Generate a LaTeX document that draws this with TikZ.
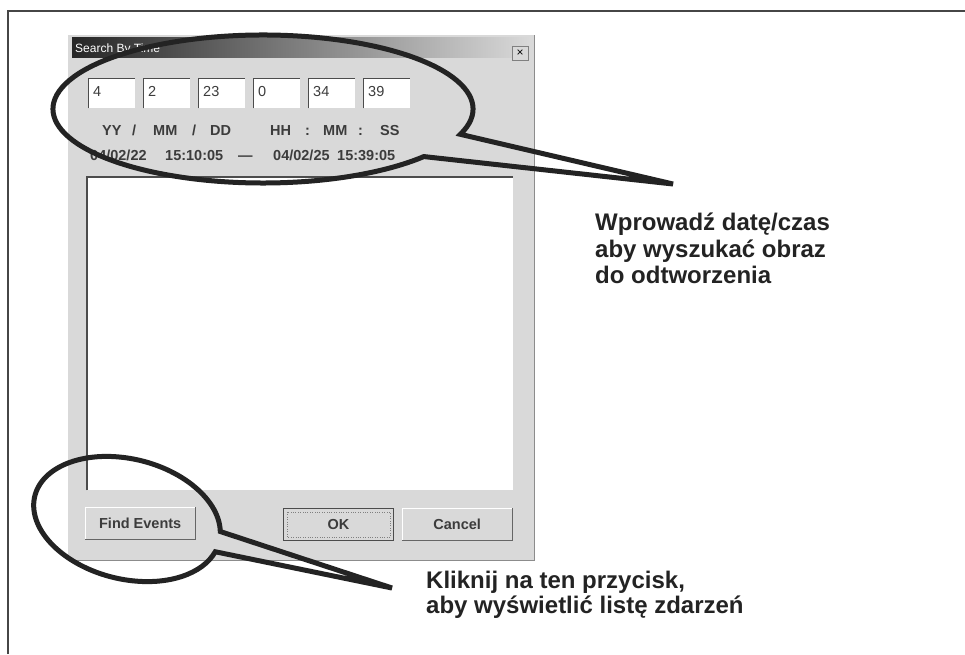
\documentclass[tikz,border=0pt]{standalone}
\usepackage{fontspec}
\setmainfont{Liberation Sans}
\usetikzlibrary{positioning}
\definecolor{dlg}{RGB}{217, 217, 217}
\definecolor{frm}{RGB}{70, 70, 70}
\definecolor{txt}{RGB}{60, 60, 60}
\definecolor{ink}{RGB}{35, 35, 35}
\begin{document}
\begin{tikzpicture}
		[x=1pt, y=1pt, every node/.style={inner sep=0pt},
		 field/.style={fill=white, minimum width=47pt, minimum height=30pt, anchor=north west},
		 button/.style={fill=dlg, minimum width=110pt, minimum height=32pt, anchor=north west, text=txt, font=\bfseries\fontsize{14.5}{16}\selectfont},
		 dlgtext/.style={anchor=base west, text=txt, font=\bfseries\fontsize{14.5}{16}\selectfont},
		 hint/.style={anchor=base west, text=ink, font=\bfseries\fontsize{24}{27}\selectfont},
		 callout/.style={draw=ink, line width=5pt}]
		\useasboundingbox (0,0) rectangle (965,-654);
		\fill[white] (0,0) rectangle (965,-654);
		% frame
		\draw[frm, line width=2.5pt] (8,-654) -- (8,-11) -- (965,-11);
		% dialog
		\node (dialog) [fill=dlg, minimum width=466pt, minimum height=525pt, anchor=north west] at (68,-35) {};
		\draw[black!45, line width=1.2pt] (dialog.north east) -- (dialog.south east) -- (dialog.south west);
		\node (title) [left color=black!85, right color=dlg, minimum width=458pt, minimum height=20pt, anchor=north west] at (72,-37) {};
		\node (titletext) [anchor=base west, text=white, font=\fontsize{12}{14}\selectfont] at (75,-52) {Search By Time};
		\node (close) [draw=black!50, fill=dlg, minimum width=16pt, minimum height=14pt, anchor=north west, font=\fontsize{12}{14}\selectfont] at (512,-46) {×};
		% date fields
		\foreach \x/\v [count=\i] in {88/4, 143/2, 198/23, 253/0, 308/34, 363/39} {
			\node (f\i) [field] at (\x,-78) {};
			\draw[black!70, line width=1pt] (f\i.south west) -- (f\i.north west) -- (f\i.north east);
			\node (v\i) [anchor=base west, text=txt, font=\fontsize{14.5}{16}\selectfont] at (\x+5,-96) {\v};
		}
		\foreach \x/\l [count=\i] in {102/YY, 132/\slash, 153/MM, 192/\slash, 210/DD, 270/HH, 305/:, 323/MM, 358/:, 380/SS}
			\node (l\i) [dlgtext] at (\x,-135) {\l};
		\foreach \x/\l [count=\i] in {90/04\slash02\slash22, 165/15:10:05, 238/---, 273/04\slash02\slash25, 337/15:39:05}
			\node (d\i) [dlgtext] at (\x,-160) {\l};
		% event list
		\node (list) [fill=white, minimum width=426pt, minimum height=313pt, anchor=north west] at (87,-177) {};
		\draw[black!70, line width=1.2pt] (list.south west) -- (list.north west) -- (list.north east);
		% buttons
		\node (find) [button] at (85,-507) {Find Events};
		\node (ok) [button, draw=black!70, line width=1pt] at (283,-508) {OK};
		\node (cancel) [button] at (402,-508) {Cancel};
		\draw[black!50, dotted] ([shift={(4,-4)}]ok.north west) rectangle ([shift={(-4,4)}]ok.south east);
		\foreach \b in {find, cancel} {
			\draw[white, line width=1pt] (\b.south west) -- (\b.north west) -- (\b.north east);
			\draw[black!60, line width=1.2pt] (\b.north east) -- (\b.south east) -- (\b.south west);
		}
		% callouts
		\coordinate (c1) at (263,-109);
		\coordinate (tip1) at (673,-184);
		\draw[callout, shift={(c1)}] (-20:210pt and 74pt) arc[start angle=-20, end angle=320, x radius=210pt, y radius=74pt] -- (tip1) -- cycle;
		\coordinate (c2) at (127,-519);
		\coordinate (tip2) at (392,-588);
		\draw[callout, shift={(c2)}, rotate=-14] (10:95pt and 60pt) arc[start angle=10, end angle=350, x radius=95pt, y radius=60pt] -- (tip2) -- cycle;
		% hints
		\node (h1) [hint] at (595,-230) {Wprowadź datę/czas};
		\node (h2) [hint] at (595,-257) {aby wyszukać obraz};
		\node (h3) [hint] at (595,-283) {do odtworzenia};
		\node (k1) [hint] at (426,-588) {Kliknij na ten przycisk,};
		\node (k2) [hint] at (426,-613) {aby wyświetlić listę zdarzeń};
\end{tikzpicture}
\end{document}
